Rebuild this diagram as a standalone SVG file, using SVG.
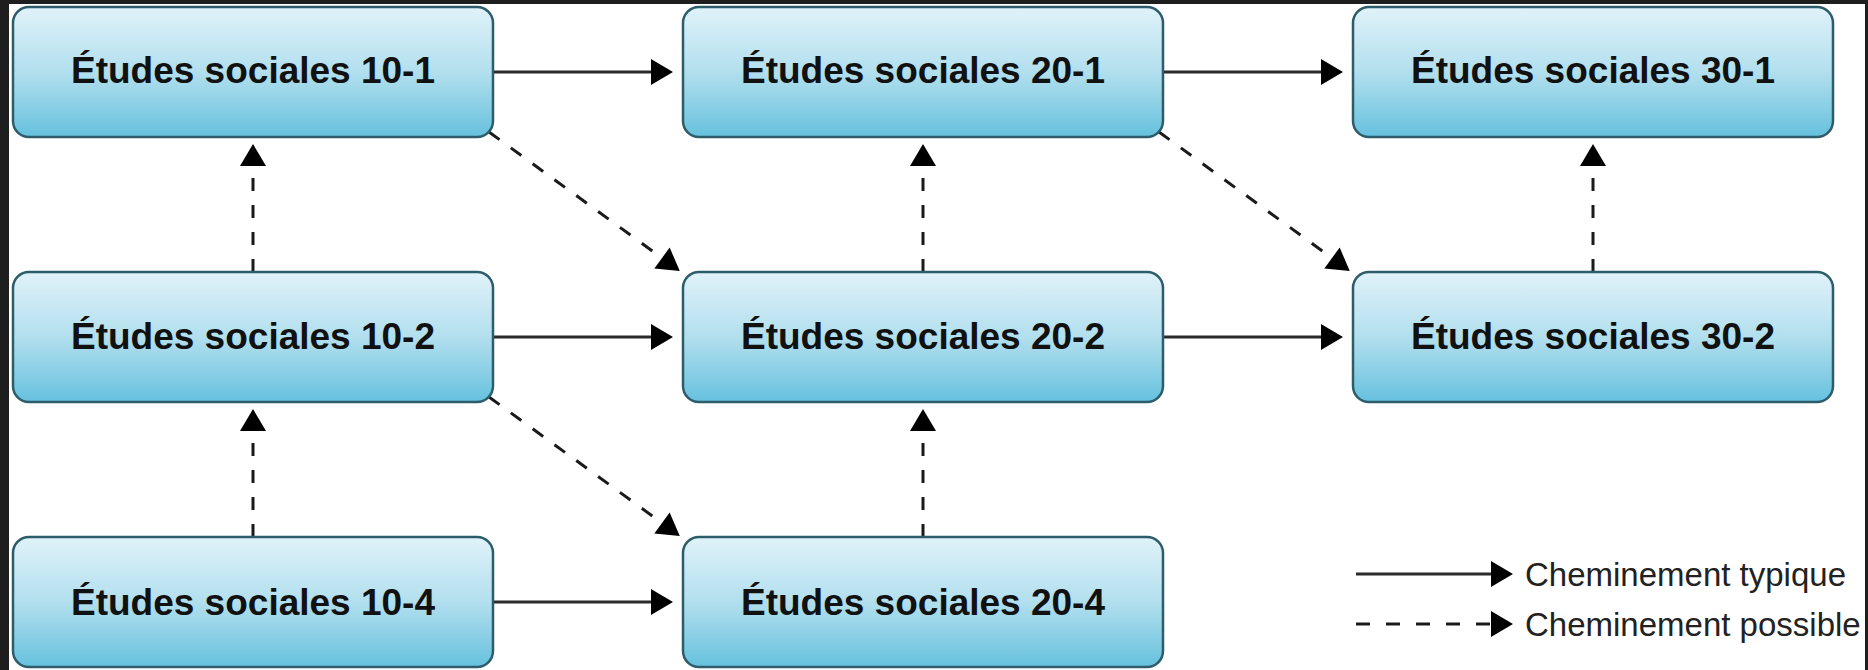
<svg xmlns="http://www.w3.org/2000/svg" width="1868" height="670" viewBox="0 0 1868 670">
  <style>
    .box { fill: url(#boxGrad); stroke: #2d5d6b; stroke-width: 2.5; }
    .lbl { font-family: "Liberation Sans", Arial, sans-serif; font-weight: bold; font-size: 37px; fill: #111; text-anchor: middle; }
    .leg { font-family: "Liberation Sans", Arial, sans-serif; font-size: 33px; fill: #222; }
    .solid { stroke: #2a2a2a; stroke-width: 3; fill: none; marker-end: url(#arrow); }
    .dash { stroke: #1a1a1a; stroke-width: 3; fill: none; stroke-dasharray: 13 14; marker-end: url(#arrow); }
  </style>
  <defs>
    <linearGradient id="boxGrad" x1="0" y1="0" x2="0" y2="1">
      <stop offset="0" stop-color="#e0f2f9"/>
      <stop offset="0.5" stop-color="#b2dfee"/>
      <stop offset="1" stop-color="#66c1de"/>
    </linearGradient>
    <marker id="arrow" markerUnits="userSpaceOnUse" markerWidth="24" markerHeight="28" viewBox="0 -14 24 28" refX="0" refY="0" orient="auto" overflow="visible">
      <path d="M0,-13 L22,0 L0,13 z" fill="#000"/>
    </marker>
  </defs>

  <rect x="0" y="0" width="1868" height="670" fill="#1e1e1e"/>
  <rect x="9" y="4" width="1856" height="666" fill="#ffffff"/>

  <g id="connectors">
    <path class="solid" d="M493,72 L651,72"/>
    <path class="solid" d="M1163,72 L1321,72"/>
    <path class="solid" d="M493,337 L651,337"/>
    <path class="solid" d="M1163,337 L1321,337"/>
    <path class="solid" d="M493,602 L651,602"/>
    <path class="dash" d="M253,272 L253,166"/>
    <path class="dash" d="M253,537 L253,431"/>
    <path class="dash" d="M923,272 L923,166"/>
    <path class="dash" d="M923,537 L923,431"/>
    <path class="dash" d="M1593,272 L1593,166"/>
    <path class="dash" d="M489,132 L662,258"/>
    <path class="dash" d="M1159,132 L1332,258"/>
    <path class="dash" d="M489,397 L662,523"/>
  </g>

  <g id="n10-1"><rect class="box" x="13" y="7" width="480" height="130" rx="16"/><text class="lbl" x="253" y="83">Études sociales 10-1</text></g>
  <g id="n20-1"><rect class="box" x="683" y="7" width="480" height="130" rx="16"/><text class="lbl" x="923" y="83">Études sociales 20-1</text></g>
  <g id="n30-1"><rect class="box" x="1353" y="7" width="480" height="130" rx="16"/><text class="lbl" x="1593" y="83">Études sociales 30-1</text></g>
  <g id="n10-2"><rect class="box" x="13" y="272" width="480" height="130" rx="16"/><text class="lbl" x="253" y="349">Études sociales 10-2</text></g>
  <g id="n20-2"><rect class="box" x="683" y="272" width="480" height="130" rx="16"/><text class="lbl" x="923" y="349">Études sociales 20-2</text></g>
  <g id="n30-2"><rect class="box" x="1353" y="272" width="480" height="130" rx="16"/><text class="lbl" x="1593" y="349">Études sociales 30-2</text></g>
  <g id="n10-4"><rect class="box" x="13" y="537" width="480" height="130" rx="16"/><text class="lbl" x="253" y="615">Études sociales 10-4</text></g>
  <g id="n20-4"><rect class="box" x="683" y="537" width="480" height="130" rx="16"/><text class="lbl" x="923" y="615">Études sociales 20-4</text></g>

  <g id="legend">
    <path class="solid" d="M1356,574 L1491,574"/>
    <path class="dash" style="stroke-dasharray:14 16" d="M1356,624 L1491,624"/>
    <text class="leg" x="1525" y="586">Cheminement typique</text>
    <text class="leg" x="1525" y="636">Cheminement possible</text>
  </g>
</svg>
